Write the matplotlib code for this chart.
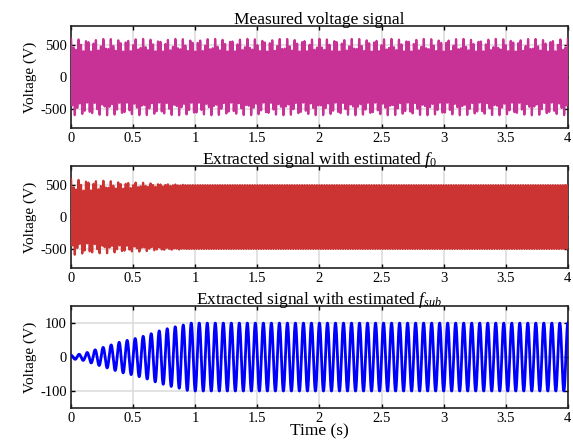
import matplotlib
matplotlib.use('Agg')
import matplotlib.pyplot as plt
import numpy as np

plt.rcParams['font.family'] = ['Liberation Serif', 'DejaVu Serif']
plt.rcParams['mathtext.fontset'] = 'custom'
plt.rcParams['mathtext.rm'] = 'Liberation Serif'
plt.rcParams['mathtext.it'] = 'Liberation Serif:italic'

# values
f0 = 50.0          # fundamental (Hz)
f_sub = 15.5       # sub-synchronous component (Hz)
amp_f0 = 500.0     # fundamental amplitude (V)
amp_sub = 100.0    # sub-synchronous amplitude (V)
t_start, t_end, fs = 0.0, 4.0, 5000

# envelope of the extracted sub-synchronous signal (peaks)
env_t = [0.0, 0.1, 0.2, 0.3, 0.4, 0.5, 0.6, 0.7, 0.8, 0.9, 0.95, 4.0]
env_a = [5, 10, 22, 33, 45, 53, 63, 76, 86, 94, 100, 100]

titles = ['Measured voltage signal',
          'Extracted signal with estimated $f_0$',
          'Extracted signal with estimated $f_{sub}$']
colors = ['#C83296', '#CC3333', '#0000FF']
ylims = [(-800, 800), (-800, 800), (-150, 150)]
yticks = [[-500, 0, 500], [-500, 0, 500], [-100, 0, 100]]
xticks = [0, 0.5, 1, 1.5, 2, 2.5, 3, 3.5, 4]
xticklabels = ['0', '0.5', '1', '1.5', '2', '2.5', '3', '3.5', '4']

t = np.arange(t_start, t_end, 1.0 / fs)
fund = amp_f0 * np.cos(2 * np.pi * f0 * t)
sub_full = amp_sub * np.cos(2 * np.pi * f_sub * t)
sub_ext = np.interp(t, env_t, env_a) * np.cos(2 * np.pi * f_sub * t)
measured = fund + sub_full
extracted_f0 = measured - sub_ext
signals = [measured, extracted_f0, sub_ext]
widths = [1.6, 1.6, 2.0]

fig = plt.figure(figsize=(5.73, 4.43), dpi=100)
bottoms = [0.711, 0.395, 0.079]

for i in range(3):
    ax = fig.add_axes([0.124, bottoms[i], 0.867, 0.230])
    ax.plot(t, signals[i], color=colors[i], lw=widths[i], zorder=3)
    ax.set_xlim(0, 4)
    ax.set_ylim(*ylims[i])
    ax.set_xticks(xticks)
    ax.set_xticklabels(xticklabels)
    ax.set_yticks(yticks[i])
    ax.set_yticklabels([str(v) for v in yticks[i]])
    ax.grid(True, color='#dddddd', lw=1.2, zorder=0)
    ax.set_axisbelow(True)
    ax.tick_params(direction='in', top=True, right=True, length=3, width=1,
                   labelsize=10.5, pad=3)
    for s in ax.spines.values():
        s.set_linewidth(1.2)
        s.set_color('#222222')
    ax.set_title(titles[i], fontsize=12.5, pad=1.5)
    ax.set_ylabel('Voltage (V)', fontsize=11, labelpad=2)

ax.set_xlabel('Time (s)', fontsize=12.5, labelpad=-1)

plt.savefig('out.png', dpi=100)
